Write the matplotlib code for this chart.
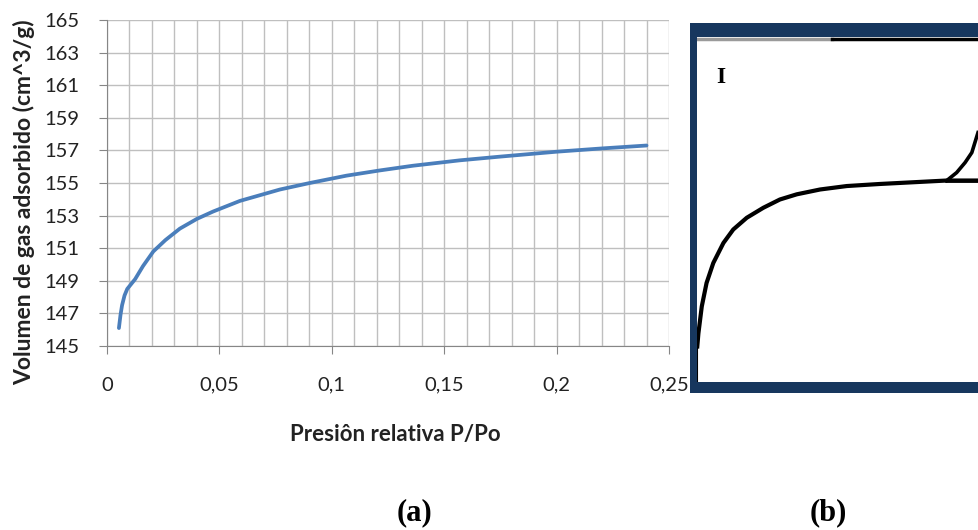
import numpy as np
import matplotlib
matplotlib.use("Agg")
import matplotlib.pyplot as plt

# (a) isoterma medida
presion = [0.0053, 0.0060, 0.0067, 0.0078, 0.0090, 0.0125, 0.016, 0.0206, 0.026,
           0.0324, 0.040, 0.0472, 0.0591, 0.0769, 0.0902, 0.1065, 0.1213, 0.1361,
           0.1569, 0.175, 0.20, 0.22, 0.24]
volumen = [146.1, 146.9, 147.5, 148.1, 148.5, 149.1, 149.9, 150.8, 151.5,
           152.2, 152.8, 153.25, 153.9, 154.6, 155.0, 155.45, 155.77, 156.06,
           156.39, 156.62, 156.92, 157.12, 157.3]
xticks = [0, 0.05, 0.1, 0.15, 0.2, 0.25]
xtick_labels = ["0", "0,05", "0,1", "0,15", "0,2", "0,25"]
yticks = list(range(145, 166, 2))

# (b) esquema de isoterma tipo I (coordenadas relativas)
tipo1_x = [0.001, 0.005, 0.017, 0.034, 0.058, 0.094, 0.129, 0.177, 0.236, 0.295,
           0.355, 0.438, 0.533, 0.651, 0.770, 0.889, 1.0]
tipo1_y = [0.103, 0.141, 0.219, 0.287, 0.345, 0.403, 0.442, 0.476, 0.505, 0.529,
           0.544, 0.558, 0.568, 0.574, 0.579, 0.584, 0.584]
histeresis_x = [0.889, 0.924, 0.954, 0.978, 1.0]
histeresis_y = [0.584, 0.607, 0.636, 0.665, 0.723]

W, H = 979, 530
fig = plt.figure(figsize=(W / 100, H / 100), dpi=100)

def caja(x0, y0, x1, y1):
    # pixeles (origen arriba-izquierda) -> fraccion de figura
    return [x0 / W, 1 - y1 / H, (x1 - x0) / W, (y1 - y0) / H]

ax = fig.add_axes(caja(107, 20, 669, 346))
ax.plot(presion, volumen, color="#4a7ebb", lw=2.7, solid_capstyle="round")
ax.set_xlim(0, 0.25)
ax.set_ylim(145, 165)
ax.set_xticks(xticks)
ax.set_xticklabels(xtick_labels)
ax.set_yticks(yticks)
ax.set_xticks(np.arange(0, 0.2501, 0.01), minor=True)
ax.grid(True, which="major", color="#bfbfbf", lw=1)
ax.grid(True, which="minor", axis="x", color="#bfbfbf", lw=1)
ax.tick_params(which="minor", length=0)
ax.tick_params(which="major", length=6, color="#868686", labelsize=14.5,
               labelcolor="#222222")
ax.tick_params(axis="y", pad=14)
ax.tick_params(axis="x", pad=16)
for lab in ax.get_xticklabels() + ax.get_yticklabels():
    lab.set_family("Lato")
for s in ["top", "right"]:
    ax.spines[s].set_visible(False)
for s in ["left", "bottom"]:
    ax.spines[s].set_color("#868686")
ax.set_axisbelow(True)

fig.text(24 / W, 1 - 202 / H, "Volumen de gas adsorbido (cm^3/g)", rotation=90,
         ha="center", va="center", fontsize=16.5, fontweight="bold",
         family="Lato", color="#222222")
fig.text(395 / W, 1 - 435 / H, "Presiôn relativa P/Po", ha="center", va="center",
         fontsize=16, fontweight="bold", family="Lato", color="#222222")

# panel (b): marco azul oscuro y esquema
fondo = fig.add_axes(caja(690, 23, W, 393))
fondo.set_facecolor("#17375e")
fondo.set_xticks([])
fondo.set_yticks([])
for s in fondo.spines.values():
    s.set_visible(False)

bx = fig.add_axes(caja(697, 37, 978, 382))
bx.set_facecolor("white")
bx.plot(tipo1_x, tipo1_y, color="black", lw=3)
bx.plot(histeresis_x, histeresis_y, color="black", lw=2.6)
bx.plot([0.889, 1.0], [0.584, 0.584], color="black", lw=2.6)
bx.plot([0.001, 0.001], [0.0, 0.103], color="black", lw=1.5)
bx.plot([0, 0.48], [0.993, 0.993], color="#9a9a9a", lw=2.5)
bx.plot([0.48, 1.0], [0.993, 0.993], color="black", lw=2.5)
bx.text(0.085, 0.884, "I", fontsize=17, family="Liberation Serif",
        fontweight="bold", ha="center", va="center")
bx.set_xlim(0, 1)
bx.set_ylim(0, 1)
bx.set_xticks([])
bx.set_yticks([])
for s in bx.spines.values():
    s.set_visible(False)

fig.text(415 / W, 1 - 513 / H, "(a)", ha="center", va="center", fontsize=22,
         fontweight="bold", family="Liberation Serif")
fig.text(828 / W, 1 - 513 / H, "(b)", ha="center", va="center", fontsize=22,
         fontweight="bold", family="Liberation Serif")

fig.savefig("out.png", dpi=100)
